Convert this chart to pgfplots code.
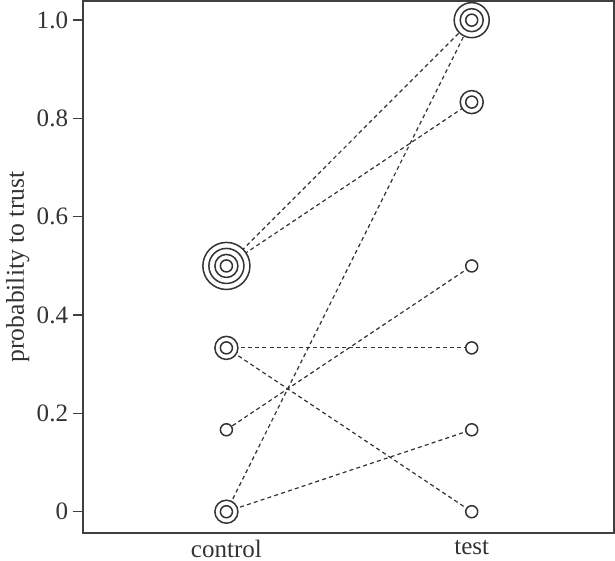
\documentclass[border=0pt]{standalone}
\usepackage{pgfplots}
\pgfplotsset{compat=1.18}
\usepackage{fontspec}
\setmainfont{Liberation Serif}
\definecolor{ink}{HTML}{333333}
\definecolor{frame}{HTML}{404040}
\begin{document}
\begin{tikzpicture}
\begin{axis}[
  name=ax,
  scale only axis,
  width=265pt, height=265.5pt,
  xmin=-0.584, xmax=1.58,
  ymin=-0.043, ymax=1.039,
  axis line style={frame, line width=0.9pt},
  xtick={0,1}, xticklabels={control,test},
  ytick={0,0.2,0.4,0.6,0.8,1.0},
  yticklabels={0,0.2,0.4,0.6,0.8,1.0},
  ytick pos=left, xtick pos=bottom,
  tick align=outside,
  x tick style={draw=none},
  y tick style={frame, line width=0.7pt},
  major tick length=5pt,
  /pgf/number format/assume math mode=true,
  tick label style={font=\fontsize{12.5}{14}\selectfont, text=ink},
  xticklabel style={yshift=5pt},
  yticklabel style={xshift=1pt},
  ylabel={probability to trust},
  ylabel style={font=\fontsize{12.8}{15}\selectfont, text=ink, at={(axis description cs:-0.088,0.5)}, anchor=south},
  clip=false,
]
% connecting lines
\addplot[ink, line width=0.6pt, dash pattern=on 2pt off 1.6pt] coordinates {(0,0.5) (1,1.0)};
\addplot[ink, line width=0.6pt, dash pattern=on 2pt off 1.6pt] coordinates {(0,0.5) (1,0.8333)};
\addplot[ink, line width=0.6pt, dash pattern=on 2pt off 1.6pt] coordinates {(0,0) (1,1.0)};
\addplot[ink, line width=0.6pt, dash pattern=on 2pt off 1.6pt] coordinates {(0,0.1667) (1,0.5)};
\addplot[ink, line width=0.6pt, dash pattern=on 2pt off 1.6pt] coordinates {(0,0.3333) (1,0.3333)};
\addplot[ink, line width=0.6pt, dash pattern=on 2pt off 1.6pt] coordinates {(0,0.3333) (1,0)};
\addplot[ink, line width=0.6pt, dash pattern=on 2pt off 1.6pt] coordinates {(0,0) (1,0.1667)};
% rings (count of participants)
\addplot[only marks, mark=*, mark size=11.75pt, mark options={draw=ink, fill=white, line width=0.75pt}] coordinates {(0,0.5)};
\addplot[only marks, mark=*, mark size=8.75pt, mark options={draw=ink, fill=white, line width=0.75pt}] coordinates {(0,0.5) (1,1.0)};
\addplot[only marks, mark=*, mark size=5.75pt, mark options={draw=ink, fill=white, line width=0.75pt}] coordinates {(0,0.5) (0,0.3333) (0,0) (1,1.0) (1,0.8333)};
\addplot[only marks, mark=*, mark size=3pt, mark options={draw=ink, fill=white, line width=0.75pt}] coordinates {(0,0) (0,0.1667) (0,0.3333) (0,0.5) (1,0) (1,0.1667) (1,0.3333) (1,0.5) (1,0.8333) (1,1.0)};
\end{axis}
\pgfresetboundingbox
\path[use as bounding box] ([xshift=-41.5pt,yshift=-14pt]ax.south west) rectangle ([xshift=0.5pt,yshift=0.5pt]ax.north east);
\end{tikzpicture}
\end{document}
